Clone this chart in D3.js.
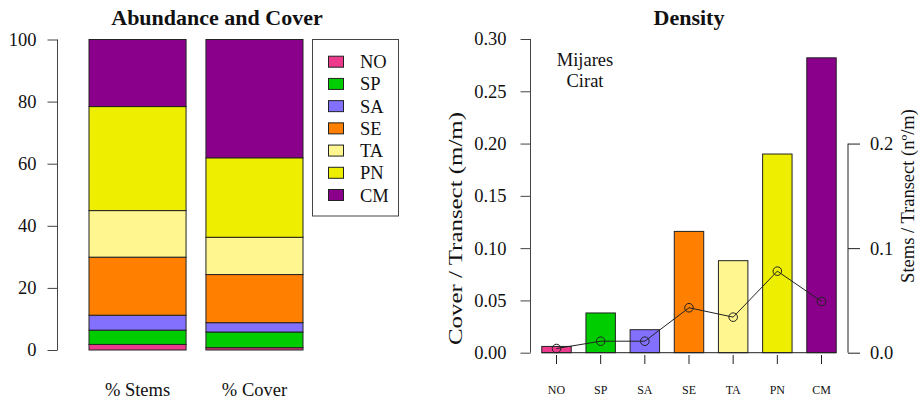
<!DOCTYPE html>
<html>
<head>
<meta charset="utf-8">
<script src="https://cdn.jsdelivr.net/npm/d3@7"></script>
<style>
  body { margin: 0; background: #fff; }
  svg text { font-family: 'Liberation Serif', 'DejaVu Serif', serif; fill: #111; }
</style>
</head>
<body>
<div id="chart"></div>
<script>
// data
let species = ['NO', 'SP', 'SA', 'SE', 'TA', 'PN', 'CM']
let colors = ['#EE3A8C', '#00CD00', '#8470FF', '#FF7F00', '#FFF68F', '#EEEE00', '#8B008B']
let stemsPct = [1.8, 4.6, 4.8, 18.7, 15.0, 33.5, 21.6]
let coverPct = [0.75, 5.05, 3.0, 15.5, 12.0, 25.6, 38.1]
let stackLabels = ['% Stems', '% Cover']
let coverDensity = [0.006, 0.038, 0.022, 0.116, 0.088, 0.19, 0.282]
let stemDensity = [0.004, 0.011, 0.011, 0.043, 0.034, 0.078, 0.049]
let leftTicks = [0, 20, 40, 60, 80, 100]
let coverTicks = [0, 0.05, 0.1, 0.15, 0.2, 0.25, 0.3]
let stemTicks = [0, 0.1, 0.2]

let width = 918
let height = 401
let axisColor = '#444'
let fs = 18.5

let svg = d3
  .select('#chart')
  .append('svg')
  .attr('width', width)
  .attr('height', height)

// ---------- left panel: Abundance and Cover ----------
let yPct = d3.scaleLinear().domain([0, 100]).range([350, 39.5])
let xStack = d3.scaleBand().domain(stackLabels).range([89, 303]).paddingInner(0.17)

let stacks = [stemsPct, coverPct]
stacks.forEach((vals, j) => {
  let cum = d3.cumsum(vals)
  let g = svg.append('g')
  g.selectAll('rect')
    .data(vals)
    .enter()
    .append('rect')
    .attr('x', xStack(stackLabels[j]))
    .attr('width', xStack.bandwidth())
    .attr('y', (d, i) => yPct(cum[i]))
    .attr('height', (d, i) => yPct(cum[i] - d) - yPct(cum[i]))
    .attr('fill', (d, i) => colors[i])
    .attr('stroke', '#222')
    .attr('stroke-width', 1)
})

svg.append('g')
  .attr('transform', 'translate(57.5,0)')
  .call(d3.axisLeft(yPct).tickValues(leftTicks).tickSize(10).tickPadding(11).tickFormat(d3.format('d')))
  .call(g => {
    g.selectAll('path,line').attr('stroke', axisColor)
    g.select('.domain').attr('d', `M0,${yPct(0)}V${yPct(100)}`)
    g.selectAll('text').attr('font-size', fs).style('font-family', 'Liberation Serif')
  })

svg.selectAll('.stackLabel')
  .data(stackLabels)
  .enter()
  .append('text')
  .attr('class', 'stackLabel')
  .attr('x', d => xStack(d) + xStack.bandwidth() / 2)
  .attr('y', 396)
  .attr('text-anchor', 'middle')
  .attr('font-size', fs)
  .text(d => d)

svg.append('text')
  .attr('x', 217)
  .attr('y', 25)
  .attr('text-anchor', 'middle')
  .attr('font-size', 22)
  .attr('font-weight', 'bold')
  .text('Abundance and Cover')

// legend
let legend = svg.append('g')
legend.append('rect')
  .attr('x', 312.5)
  .attr('y', 39.5)
  .attr('width', 86)
  .attr('height', 176.5)
  .attr('fill', 'none')
  .attr('stroke', axisColor)

let legendY = d3.scalePoint().domain(species).range([61.7, 195])
legend.selectAll('.swatch')
  .data(species)
  .enter()
  .append('rect')
  .attr('class', 'swatch')
  .attr('x', 328.5)
  .attr('y', d => legendY(d) - 5.5)
  .attr('width', 15)
  .attr('height', 11)
  .attr('fill', (d, i) => colors[i])
  .attr('stroke', '#222')

legend.selectAll('.legText')
  .data(species)
  .enter()
  .append('text')
  .attr('class', 'legText')
  .attr('x', 360)
  .attr('y', d => legendY(d) + 6.5)
  .attr('font-size', fs)
  .text(d => d)

// ---------- right panel: Density ----------
let yCover = d3.scaleLinear().domain([0, 0.3]).range([352.7, 39])
let yStem = d3.scaleLinear().domain([0, 0.3]).range([352.7, 39])
let xSp = d3.scaleBand().domain(species).range([530, 848]).paddingInner(1 / 3).paddingOuter(0.4 / 1.5)

svg.append('g')
  .selectAll('rect')
  .data(coverDensity)
  .enter()
  .append('rect')
  .attr('x', (d, i) => xSp(species[i]))
  .attr('width', xSp.bandwidth())
  .attr('y', d => yCover(d))
  .attr('height', d => yCover(0) - yCover(d))
  .attr('fill', (d, i) => colors[i])
  .attr('stroke', '#222')

// baseline under the bars
svg.append('line')
  .attr('x1', xSp(species[0]))
  .attr('x2', xSp(species[6]) + xSp.bandwidth())
  .attr('y1', yCover(0))
  .attr('y2', yCover(0))
  .attr('stroke', '#222')

// stems line
let line = d3.line()
  .x((d, i) => xSp(species[i]) + xSp.bandwidth() / 2)
  .y(d => yStem(d))

svg.append('path')
  .datum(stemDensity)
  .attr('d', line)
  .attr('fill', 'none')
  .attr('stroke', '#222')

svg.selectAll('.pt')
  .data(stemDensity)
  .enter()
  .append('circle')
  .attr('class', 'pt')
  .attr('cx', (d, i) => xSp(species[i]) + xSp.bandwidth() / 2)
  .attr('cy', d => yStem(d))
  .attr('r', 4.3)
  .attr('fill', 'none')
  .attr('stroke', '#222')

// x ticks and labels
svg.append('g')
  .attr('transform', 'translate(0,355)')
  .call(d3.axisBottom(xSp).tickSize(9).tickPadding(21))
  .call(g => {
    g.select('.domain').remove()
    g.selectAll('line').attr('stroke', '#222')
    g.selectAll('text').attr('font-size', 12).style('font-family', 'Liberation Serif')
  })

// left axis
svg.append('g')
  .attr('transform', 'translate(530.5,0)')
  .call(d3.axisLeft(yCover).tickValues(coverTicks).tickSize(10).tickPadding(14).tickFormat(d3.format('.2f')))
  .call(g => {
    g.selectAll('path,line').attr('stroke', axisColor)
    g.select('.domain').attr('d', `M0,${yCover(0)}V${yCover(0.3)}`)
    g.selectAll('text').attr('font-size', fs).style('font-family', 'Liberation Serif')
  })

// right axis
svg.append('g')
  .attr('transform', 'translate(848,0)')
  .call(d3.axisRight(yStem).tickValues(stemTicks).tickSize(12).tickPadding(10).tickFormat(d3.format('.1f')))
  .call(g => {
    g.selectAll('path,line').attr('stroke', '#222')
    g.select('.domain').attr('d', `M0,${yStem(0)}V${yStem(0.2)}`)
    g.selectAll('text').attr('font-size', fs).style('font-family', 'Liberation Serif')
  })

// left label is stretched along its length in the original
svg.append('text')
  .attr('transform', 'translate(462,228.5) rotate(-90)')
  .attr('text-anchor', 'middle')
  .attr('font-size', fs)
  .attr('textLength', 233)
  .attr('lengthAdjust', 'spacingAndGlyphs')
  .text('Cover / Transect (m/m)')

svg.append('text')
  .attr('transform', 'translate(914,196) rotate(-90)')
  .attr('text-anchor', 'middle')
  .attr('font-size', fs)
  .text('Stems / Transect (n\u00BA/m)')

svg.append('text')
  .attr('x', 689)
  .attr('y', 25)
  .attr('text-anchor', 'middle')
  .attr('font-size', 22)
  .attr('font-weight', 'bold')
  .text('Density')

svg.append('text')
  .attr('x', 585)
  .attr('y', 66)
  .attr('text-anchor', 'middle')
  .attr('font-size', fs)
  .text('Mijares')

svg.append('text')
  .attr('x', 585)
  .attr('y', 87)
  .attr('text-anchor', 'middle')
  .attr('font-size', fs)
  .text('Cirat')
</script>
</body>
</html>
